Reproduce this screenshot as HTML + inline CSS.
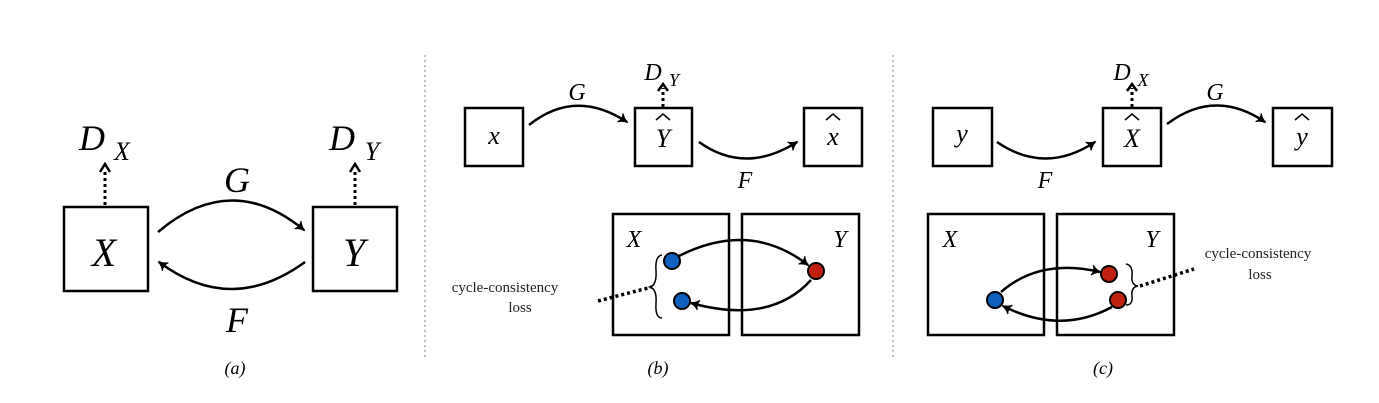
<!DOCTYPE html>
<html><head><style>body{margin:0;background:#fff}svg{display:block}</style></head><body>
<svg width="1379" height="403" viewBox="0 0 1379 403" xmlns="http://www.w3.org/2000/svg" font-family="Liberation Serif, serif">
<defs>
<marker id="ah" markerWidth="14" markerHeight="14" refX="9" refY="6" orient="auto" markerUnits="userSpaceOnUse">
<path d="M1,1 Q5,5 10,6 Q5,7 1,11 Q4,6 1,1 Z" fill="#000" stroke="#000" stroke-width="1"/></marker>
</defs>
<g stroke="#000" stroke-width="2.5" fill="none">
<rect x="64" y="207" width="84" height="84"/>
<rect x="313" y="207" width="84" height="84"/>
<rect x="465" y="108" width="58" height="58"/>
<rect x="635" y="108" width="57" height="58"/>
<rect x="804" y="108" width="58" height="58"/>
<rect x="613" y="214" width="116" height="121"/>
<rect x="742" y="214" width="117" height="121"/>
<rect x="933" y="108" width="59" height="58"/>
<rect x="1103" y="108" width="58" height="58"/>
<rect x="1273" y="108" width="59" height="58"/>
<rect x="928" y="214" width="116" height="121"/>
<rect x="1057" y="214" width="117" height="121"/>
</g>
<g stroke="#000" stroke-width="2.5" fill="none" marker-end="url(#ah)">
<path d="M158,232 Q231,170 304,230"/>
<path d="M305,262 Q231,316 159,262"/>
<path d="M529,125 Q575,88 627,122"/>
<path d="M699,142 Q745,175 797,142"/>
<path d="M997,142 Q1045,175 1095,142"/>
<path d="M1167,124 Q1215,88 1265,122"/>
<path d="M679,256 Q750,220 808,265"/>
<path d="M811,280 Q770,325 691,303"/>
<path d="M1001,292 Q1040,258 1100,272"/>
<path d="M1112,307 Q1060,335 1003,306"/>
</g>
<g stroke="#000" stroke-width="3" stroke-dasharray="3,3" fill="none">
<path d="M105,205 V170"/><path d="M355,205 V170"/>
<path d="M663,107 V88"/><path d="M1132,107 V88"/>
<path d="M598,301 L652,287" stroke-width="3.5"/>
<path d="M1140,286 L1194,269" stroke-width="3.5"/>
</g>
<g stroke="#000" stroke-width="2.5" fill="none">
<path d="M100,172 L105,164 L110,172"/><path d="M350,172 L355,164 L360,172"/>
<path d="M658,91 L663,84 L668,91"/><path d="M1127,91 L1132,84 L1137,91"/>
</g>
<g stroke="#000" stroke-width="1.5" fill="none">
<path d="M662,255 Q655,256 656,270 Q657,285 650,287 Q657,289 656,303 Q655,318 662,318"/>
<path d="M1126,264 Q1133,265 1132,276 Q1131,285 1138,286 Q1131,287 1132,296 Q1133,305 1126,305"/>
<path d="M656,120 L663,114 L670,120"/>
<path d="M826,120 L833,114 L840,120"/>
<path d="M1125,120 L1132,114 L1139,120"/>
<path d="M1295,120 L1302,114 L1309,120"/>
</g>
<g stroke="#000" stroke-width="2">
<circle cx="672" cy="261" r="8" fill="#1060c0"/>
<circle cx="682" cy="301" r="8" fill="#1060c0"/>
<circle cx="816" cy="271" r="8" fill="#c02010"/>
<circle cx="995" cy="300" r="8" fill="#1060c0"/>
<circle cx="1109" cy="274" r="8" fill="#c02010"/>
<circle cx="1118" cy="300" r="8" fill="#c02010"/>
</g>
<g stroke="#888" stroke-width="1" stroke-dasharray="2,3">
<path d="M425,55 V360"/><path d="M893,55 V360"/>
</g>
<g font-style="italic" fill="#000" text-anchor="middle">
<text x="92" y="150" font-size="36">D</text><text x="122" y="160" font-size="26">X</text>
<text x="342" y="150" font-size="36">D</text><text x="372" y="160" font-size="26">Y</text>
<text x="237" y="192" font-size="36">G</text>
<text x="237" y="332" font-size="36">F</text>
<text x="104" y="266" font-size="40">X</text>
<text x="354" y="266" font-size="40">Y</text>
<text x="653" y="80" font-size="24">D</text><text x="674" y="86" font-size="18">Y</text>
<text x="1122" y="80" font-size="24">D</text><text x="1143" y="86" font-size="18">X</text>
<text x="577" y="100" font-size="24">G</text>
<text x="745" y="188" font-size="24">F</text>
<text x="1045" y="188" font-size="24">F</text>
<text x="1215" y="100" font-size="24">G</text>
<text x="494" y="144" font-size="26">x</text>
<text x="663" y="147" font-size="26">Y</text>
<text x="833" y="145" font-size="26">x</text>
<text x="962" y="142" font-size="26">y</text>
<text x="1132" y="147" font-size="26">X</text>
<text x="1302" y="145" font-size="26">y</text>
<text x="634" y="247" font-size="24">X</text>
<text x="840" y="247" font-size="24">Y</text>
<text x="950" y="247" font-size="24">X</text>
<text x="1152" y="247" font-size="24">Y</text>
<text x="235" y="374" font-size="18">(a)</text>
<text x="658" y="374" font-size="18">(b)</text>
<text x="1103" y="374" font-size="18">(c)</text>
</g>
<g fill="#222" font-size="15" text-anchor="middle">
<text x="505" y="292">cycle-consistency</text><text x="520" y="312">loss</text>
<text x="1258" y="258">cycle-consistency</text><text x="1260" y="279">loss</text>
</g>
</svg>
</body></html>
